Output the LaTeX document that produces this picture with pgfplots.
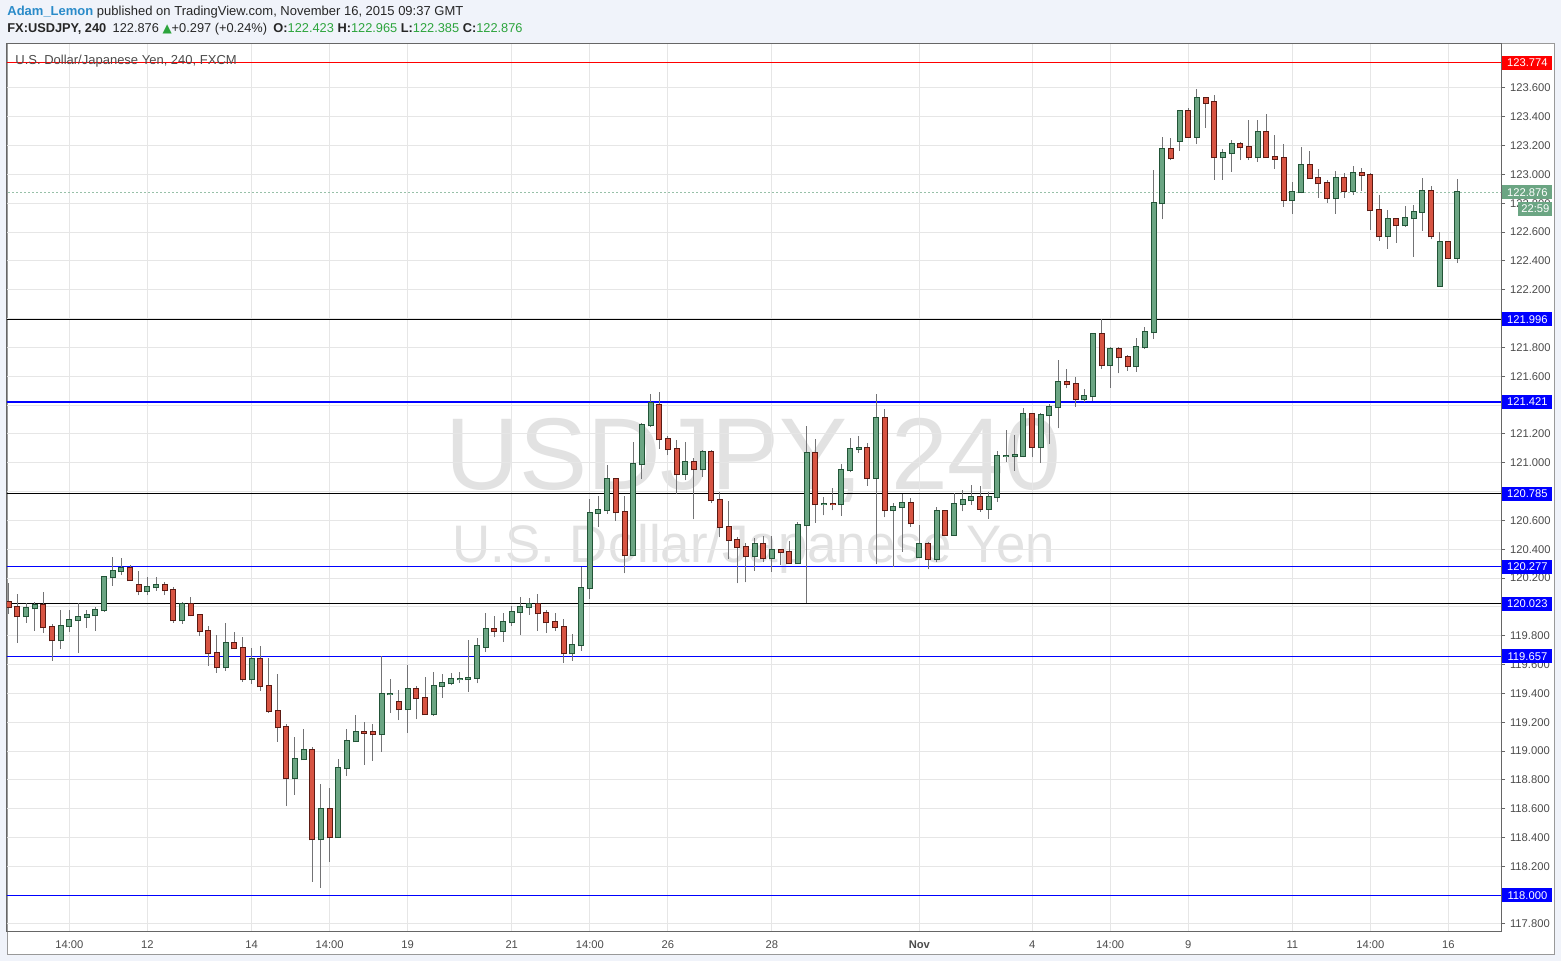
\documentclass[border=0pt]{standalone}
\usepackage{fontspec}
\setmainfont{Liberation Sans}
\newfontfamily\dejavu{DejaVu Sans}
\usepackage{pgfplots}
\usepackage{pgfplotstable}
\pgfplotsset{compat=1.18}
\usetikzlibrary{backgrounds}

\definecolor{bgc}{HTML}{F0F3FA}
\definecolor{gfill}{HTML}{6BA583}
\definecolor{gline}{HTML}{225437}
\definecolor{rfill}{HTML}{D75442}
\definecolor{rline}{HTML}{5B1A13}
\definecolor{wick}{HTML}{737375}
\definecolor{gridc}{HTML}{E6E6E6}
\definecolor{txt}{HTML}{4C4C4C}
\definecolor{userblue}{HTML}{2A8BC9}
\definecolor{valgreen}{HTML}{2CA43C}
\definecolor{wm}{HTML}{E2E2E2}

% up candles (close >= open): index open high low close
\pgfplotstableread{
i O H L C
2 119.934 120.029 119.890 119.990
3 119.990 120.034 119.835 120.011
6 119.768 119.978 119.710 119.865
7 119.865 119.978 119.828 119.907
8 119.907 120.025 119.682 119.927
9 119.927 119.978 119.856 119.941
10 119.941 120.001 119.835 119.976
11 119.976 120.214 119.967 120.205
12 120.205 120.344 120.147 120.247
13 120.247 120.337 120.221 120.267
16 120.108 120.207 120.080 120.136
17 120.136 120.207 120.112 120.149
20 119.907 120.034 119.884 120.020
25 119.581 119.886 119.557 119.747
28 119.497 119.715 119.465 119.636
33 118.810 119.097 118.697 118.942
34 118.942 119.153 118.942 119.005
36 118.387 118.771 118.052 118.595
38 118.401 118.945 118.401 118.880
39 118.880 119.153 118.829 119.067
40 119.067 119.248 119.067 119.130
43 119.116 119.659 118.996 119.393
44 119.393 119.497 119.266 119.398
46 119.289 119.597 119.127 119.428
49 119.255 119.548 119.246 119.449
50 119.449 119.534 119.370 119.470
51 119.470 119.541 119.456 119.497
52 119.497 119.548 119.474 119.500
53 119.497 119.770 119.412 119.505
54 119.505 119.782 119.470 119.726
55 119.724 119.960 119.689 119.844
57 119.830 119.955 119.759 119.893
58 119.893 120.006 119.865 119.962
59 119.962 120.066 119.805 119.997
60 119.997 120.059 119.946 120.018
65 119.678 119.809 119.627 119.733
66 119.733 120.279 119.696 120.129
67 120.129 120.751 120.057 120.649
68 120.649 120.769 120.556 120.670
69 120.670 120.982 120.647 120.885
72 120.358 121.144 120.351 120.989
73 120.989 121.273 120.889 121.259
74 121.259 121.477 121.250 121.412
78 120.920 121.144 120.878 121.003
80 120.954 121.088 120.903 121.072
86 120.351 120.478 120.249 120.434
88 120.337 120.492 120.242 120.392
91 120.302 120.589 120.298 120.566
92 120.566 121.257 120.025 121.065
94 120.711 120.765 120.635 120.714
96 120.711 120.991 120.633 120.947
97 120.947 121.169 120.933 121.093
98 121.093 121.185 121.070 121.100
100 120.892 121.477 120.295 121.308
102 120.670 120.723 120.279 120.691
103 120.691 120.783 120.383 120.718
105 120.344 120.568 120.337 120.434
107 120.330 120.695 120.309 120.663
109 120.501 120.788 120.501 120.711
110 120.711 120.811 120.663 120.739
111 120.739 120.843 120.709 120.760
113 120.680 120.797 120.610 120.762
114 120.762 121.084 120.730 121.047
115 121.047 121.227 121.007 121.050
116 121.050 121.192 120.945 121.052
117 121.045 121.382 121.037 121.336
119 121.107 121.343 121.000 121.329
120 121.329 121.407 121.130 121.384
121 121.384 121.713 121.239 121.558
124 121.440 121.512 121.424 121.461
125 121.461 121.902 121.431 121.891
127 121.676 121.801 121.521 121.787
130 121.669 121.865 121.632 121.801
131 121.801 121.939 121.790 121.905
132 121.905 123.031 121.858 122.799
133 122.799 123.257 122.688 123.174
135 123.234 123.447 123.165 123.438
137 123.262 123.593 123.211 123.528
140 123.118 123.174 122.964 123.146
141 123.146 123.239 123.019 123.209
144 123.118 123.377 123.088 123.292
148 122.820 122.947 122.728 122.876
149 122.876 123.193 122.869 123.066
153 122.834 123.024 122.728 122.973
155 122.887 123.059 122.860 123.010
159 122.571 122.751 122.485 122.689
161 122.647 122.781 122.638 122.696
162 122.696 122.786 122.430 122.739
163 122.739 122.975 122.610 122.883
165 122.228 122.601 122.221 122.529
167 122.423 122.965 122.385 122.876
}\up

% down candles (close < open)
\pgfplotstableread{
i O H L C
0 120.032 120.168 119.951 119.997
1 119.997 120.089 119.752 119.934
4 120.011 120.103 119.821 119.858
5 119.858 119.881 119.627 119.768
14 120.267 120.288 120.184 120.184
15 120.149 120.247 120.080 120.108
18 120.149 120.170 120.082 120.115
19 120.115 120.136 119.890 119.907
21 120.020 120.069 119.934 119.941
22 119.941 119.951 119.800 119.830
23 119.830 119.865 119.592 119.678
24 119.678 119.803 119.544 119.581
26 119.747 119.823 119.705 119.712
27 119.712 119.791 119.480 119.497
29 119.636 119.729 119.419 119.449
30 119.449 119.645 119.266 119.275
31 119.275 119.534 119.065 119.164
32 119.164 119.187 118.621 118.810
35 119.005 119.028 118.094 118.387
37 118.595 118.743 118.232 118.401
41 119.130 119.201 118.905 119.128
42 119.130 119.187 118.933 119.116
45 119.338 119.423 119.215 119.289
47 119.428 119.451 119.220 119.366
48 119.366 119.514 119.255 119.255
56 119.844 119.937 119.789 119.830
61 120.018 120.087 119.835 119.955
62 119.955 119.978 119.821 119.893
63 119.893 119.955 119.835 119.858
64 119.858 119.914 119.613 119.678
70 120.885 120.885 120.598 120.656
71 120.656 120.769 120.233 120.358
75 121.398 121.491 121.098 121.162
76 121.162 121.185 121.051 121.093
77 121.093 121.158 120.781 120.920
79 121.003 121.031 120.607 120.954
81 121.072 121.088 120.720 120.739
82 120.739 120.799 120.482 120.556
83 120.556 120.732 120.332 120.462
84 120.462 120.487 120.163 120.413
85 120.413 120.441 120.170 120.351
87 120.434 120.492 120.311 120.337
89 120.392 120.401 120.290 120.378
90 120.378 120.455 120.298 120.302
93 121.065 121.165 120.584 120.711
95 120.714 120.825 120.670 120.711
99 121.100 121.139 120.841 120.892
101 121.308 121.373 120.621 120.670
104 120.718 120.755 120.556 120.580
106 120.434 120.448 120.260 120.330
108 120.663 120.674 120.492 120.501
112 120.760 120.840 120.660 120.680
118 121.336 121.336 121.037 121.107
122 121.558 121.650 121.516 121.544
123 121.544 121.592 121.389 121.440
126 121.891 121.995 121.653 121.676
128 121.787 121.801 121.620 121.731
129 121.731 121.747 121.639 121.669
134 123.174 123.250 123.100 123.112
136 123.438 123.458 123.262 123.262
138 123.528 123.539 123.324 123.498
139 123.502 123.551 122.964 123.118
142 123.209 123.225 123.100 123.188
143 123.188 123.377 123.100 123.118
145 123.292 123.419 123.118 123.118
146 123.118 123.273 123.040 123.109
147 123.111 123.211 122.776 122.820
150 123.066 123.163 122.970 122.973
151 122.973 123.038 122.839 122.938
152 122.938 122.961 122.804 122.834
154 122.973 123.012 122.839 122.887
156 123.010 123.045 122.887 122.994
157 122.996 123.008 122.615 122.751
158 122.751 122.860 122.541 122.571
160 122.689 122.689 122.527 122.647
164 122.883 122.920 122.550 122.571
166 122.529 122.529 122.418 122.423
}\down

\begin{document}
\begin{tikzpicture}[
  lbl/.style={anchor=west, inner sep=0pt, minimum height=7pt, minimum width=25pt,
    text=white, font=\fontsize{5.6}{6}\selectfont}]

\begin{axis}[
  name=ax, at={(0pt,0pt)}, anchor=south west, scale only axis,
  width=747pt, height=444pt,
  xmin=-0.196, xmax=172.06, ymin=117.7445, ymax=123.905,
  axis line style={draw=black!60, line width=0.5pt},
  xtick={7,16,28,37,46,58,67,76,88,105,118,127,136,148,157,166},
  xticklabels={14:00,12,14,14:00,19,21,14:00,26,28,\textbf{Nov},4,14:00,9,11,14:00,16},
  ytick={117.8,118,118.2,118.4,118.6,118.8,119,119.2,119.4,119.6,119.8,120,120.2,120.4,120.6,120.8,121,121.2,121.4,121.6,121.8,122,122.2,122.4,122.6,122.8,123,123.2,123.4,123.6},
  yticklabel pos=right, ytick pos=right, xtick pos=bottom,
  tick align=outside, major tick length=2pt,
  xtick style={draw=none},
  ytick style={draw=black!60, line width=0.5pt},
  xmajorgrids, ymajorgrids,
  major grid style={draw=gridc, line width=0.5pt},
  yticklabel style={/pgf/number format/.cd, fixed, fixed zerofill, precision=3, assume math mode=true,
    /tikz/.cd, font=\fontsize{5.6}{6}\selectfont, text=txt, xshift=-1pt},
  xticklabel style={font=\fontsize{5.6}{6}\selectfont, text=txt, yshift=1.2pt},
]
% horizontal levels
\addplot[red, line width=0.55pt] coordinates {(-1,123.774) (175,123.774)};
\addplot[black, line width=0.55pt] coordinates {(-1,121.996) (175,121.996)};
\addplot[black, line width=0.55pt] coordinates {(-1,120.785) (175,120.785)};
\addplot[black, line width=0.55pt] coordinates {(-1,120.023) (175,120.023)};
\addplot[blue, line width=0.55pt] coordinates {(-1,121.421) (175,121.421)};
\addplot[blue, line width=0.55pt] coordinates {(-1,120.277) (175,120.277)};
\addplot[blue, line width=0.55pt] coordinates {(-1,119.657) (175,119.657)};
\addplot[blue, line width=0.55pt] coordinates {(-1,118.000) (175,118.000)};
\addplot[gfill!70, line width=0.4pt, dash pattern=on 1pt off 1pt] coordinates {(-1,122.876) (175,122.876)};
% wicks
\addplot[wick, line width=0.5pt, mark=none, quiver={u=0,v=\thisrow{H}-\thisrow{L}}] table[x=i,y=L] {\up};
\addplot[wick, line width=0.5pt, mark=none, quiver={u=0,v=\thisrow{H}-\thisrow{L}}] table[x=i,y=L] {\down};
% bodies up
\addplot[gline, line width=3pt, mark=none, quiver={u=0,v=\thisrow{C}-\thisrow{O}+0.0139}] table[x=i,y expr=\thisrow{O}-0.0069] {\up};
\addplot[gfill, line width=2pt, mark=none, quiver={u=0,v=\thisrow{C}-\thisrow{O}}] table[x=i,y=O] {\up};
% bodies down
\addplot[rline, line width=3pt, mark=none, quiver={u=0,v=\thisrow{O}-\thisrow{C}+0.0139}] table[x=i,y expr=\thisrow{C}-0.0069] {\down};
\addplot[rfill, line width=2pt, mark=none, quiver={u=0,v=\thisrow{O}-\thisrow{C}}] table[x=i,y=C] {\down};

\coordinate (l1) at (axis cs:172.06,123.774);
\coordinate (l2) at (axis cs:172.06,122.876);
\coordinate (l3) at (axis cs:172.06,121.996);
\coordinate (l4) at (axis cs:172.06,121.421);
\coordinate (l5) at (axis cs:172.06,120.785);
\coordinate (l6) at (axis cs:172.06,120.277);
\coordinate (l7) at (axis cs:172.06,120.023);
\coordinate (l8) at (axis cs:172.06,119.657);
\coordinate (l9) at (axis cs:172.06,118.000);
\end{axis}

% origin of the whole picture (bottom-left corner of the image)
\coordinate (O) at ([shift={(-3.5pt,-14.5pt)}]ax.south west);

\begin{scope}[on background layer]
\fill[bgc] (O) rectangle ([shift={(780.5pt,480.5pt)}]O);
\filldraw[fill=white, draw=black!40, line width=0.5pt] ([shift={(3.5pt,3pt)}]O) rectangle ([shift={(777pt,458.5pt)}]O);
\node[anchor=base, text=wm, font=\fontsize{51}{51}\selectfont, inner sep=0] at ([shift={(376.75pt,235.5pt)}]O) {USDJPY, 240};
\node[anchor=base, text=wm, font=\fontsize{26.4}{27}\selectfont, inner sep=0] at ([shift={(377pt,199pt)}]O) {U.S. Dollar/Japanese Yen};
\end{scope}

% header
\node[anchor=base west, inner sep=0, font=\fontsize{6.5}{7}\selectfont] at ([shift={(3.5pt,472.5pt)}]O)
  {\textcolor{userblue}{\textbf{Adam\_Lemon}} \textcolor{black!85}{published on TradingView.com, November 16, 2015 09:37 GMT}};
\node[anchor=base west, inner sep=0, font=\fontsize{6.4}{7}\selectfont, text=black!85] at ([shift={(3.5pt,464pt)}]O)
  {\textbf{FX:USDJPY, 240}\enspace 122.876 {\color{valgreen}\dejavu\fontsize{6}{7}\selectfont ▲}+0.297 (+0.24\%)\enspace
   \textbf{O:}\textcolor{valgreen}{122.423} \textbf{H:}\textcolor{valgreen}{122.965} \textbf{L:}\textcolor{valgreen}{122.385} \textbf{C:}\textcolor{valgreen}{122.876}};

\node[anchor=base west, text=txt, font=\fontsize{6.5}{7}\selectfont, inner sep=0] at ([shift={(7.5pt,448pt)}]O) {U.S. Dollar/Japanese Yen, 240, FXCM};

\node[lbl, fill=red] at ([xshift=0.5pt]l1) {123.774};
\node[lbl, fill=gfill] (cur) at ([xshift=0.5pt]l2) {122.876};
\node[anchor=north east, inner sep=0pt, minimum height=7pt, minimum width=17pt, fill=gfill, text=white,
  font=\fontsize{5.6}{6}\selectfont] at ([yshift=-1pt]cur.south east) {22:59};
\node[lbl, fill=blue] at ([xshift=0.5pt]l3) {121.996};
\node[lbl, fill=blue] at ([xshift=0.5pt]l4) {121.421};
\node[lbl, fill=blue] at ([xshift=0.5pt]l5) {120.785};
\node[lbl, fill=blue] at ([xshift=0.5pt]l6) {120.277};
\node[lbl, fill=blue] at ([xshift=0.5pt]l7) {120.023};
\node[lbl, fill=blue] at ([xshift=0.5pt]l8) {119.657};
\node[lbl, fill=blue] at ([xshift=0.5pt]l9) {118.000};

\pgfresetboundingbox
\useasboundingbox (O) rectangle ([shift={(780.5pt,480.5pt)}]O);
\end{tikzpicture}
\end{document}
